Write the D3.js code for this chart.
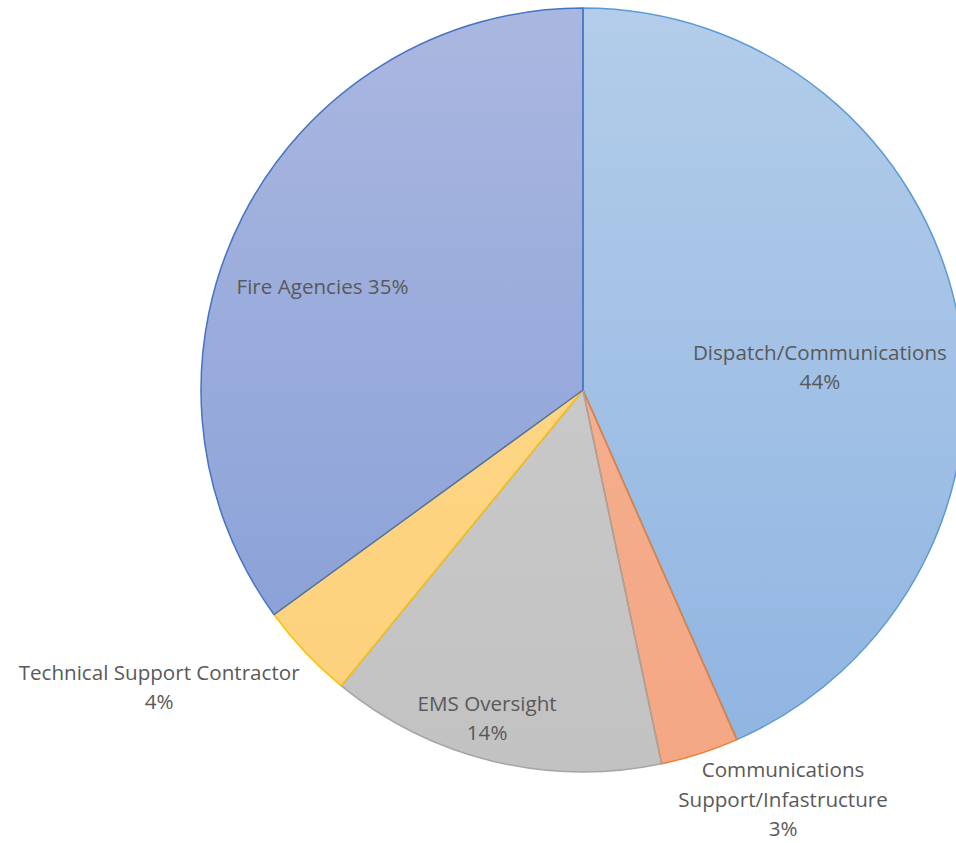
<!DOCTYPE html>
<html><head><meta charset="utf-8">
<script src="https://cdn.jsdelivr.net/npm/d3@7"></script>
<style>html,body{margin:0;padding:0;background:#fff;overflow:hidden}</style>
</head><body>
<svg id="c" width="956" height="843"></svg>
<script>
const categories = ["Dispatch/Communications", "Communications Support/Infastructure", "EMS Oversight", "Technical Support Contractor", "Fire Agencies"];
const values = [43.4, 3.3, 14.2, 4.1, 35.0];
const pctLabels = ["44%", "3%", "14%", "4%", "35%"];
const labelLines = [["Dispatch/Communications", "44%"], ["Communications", "Support/Infastructure", "3%"], ["EMS Oversight", "14%"], ["Technical Support Contractor", "4%"], ["Fire Agencies 35%"]];
const fillTop = ["#b3cdea", "#f5b497", "#cfcfcf", "#fed98a", "#aab7e0"];
const fillBot = ["#8fb4e1", "#f4a784", "#c2c2c2", "#fdd17c", "#849dd6"];
const strokes = ["#5b9bd5", "#ed7d31", "#a5a5a5", "#ffc000", "#4472c4"];
// label layout: [angle offset deg, radius]
const labelLayout = [[6.4, 238], [-8.2, 456], [2.6, 342], [8.3, 518], [-5.5, 280]];

const cx = 583, cy = 390, R = 382;
const svg = d3.select("#c");
const defs = svg.append("defs");
values.forEach((v, i) => {
  const g = defs.append("linearGradient").attr("id", "g" + i)
    .attr("gradientUnits", "userSpaceOnUse").attr("x1", 0).attr("y1", -R).attr("x2", 0).attr("y2", R);
  g.append("stop").attr("offset", 0).attr("stop-color", fillTop[i]);
  g.append("stop").attr("offset", 1).attr("stop-color", fillBot[i]);
});
const pie = d3.pie().sort(null).value(d => d);
const arcs = pie(values);
const arc = d3.arc().innerRadius(0).outerRadius(R);
const gp = svg.append("g").attr("transform", `translate(${cx},${cy})`);
gp.selectAll("path.f").data(arcs).join("path").attr("class", "f")
  .attr("d", arc)
  .attr("fill", (d, i) => `url(#g${i})`);
gp.selectAll("path.s").data(arcs).join("path").attr("class", "s")
  .attr("d", arc).attr("fill", "none")
  .attr("stroke", (d, i) => strokes[i]).attr("stroke-width", 1.5).attr("stroke-linejoin", "round");

const font = "'Open Sans', sans-serif";
arcs.forEach((d, i) => {
  const mid = (d.startAngle + d.endAngle) / 2 + labelLayout[i][0] * Math.PI / 180;
  const r = labelLayout[i][1];
  const x = cx + r * Math.sin(mid), y = cy - r * Math.cos(mid);
  const lines = labelLines[i];
  const lh = 29.5;
  const t = svg.append("text").attr("text-anchor", "middle")
    .attr("font-family", font).attr("font-size", 20.6).attr("fill", "#595959");
  lines.forEach((ln, k) => {
    t.append("tspan").attr("x", x).attr("y", y + (k - (lines.length - 1) / 2) * lh + 7).text(ln);
  });
});
</script>
</body></html>
